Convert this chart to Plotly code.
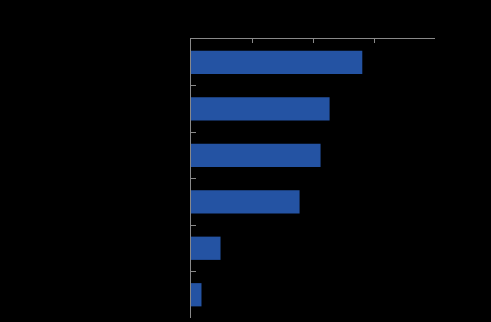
import plotly.graph_objects as go

categories = ["A", "B", "C", "D", "E", "F"]
values = [70.2, 56.8, 53.1, 44.5, 12.1, 4.3]
x_ticks = [0, 25, 50, 75, 100]

fig = go.Figure(go.Bar(
    x=values, y=categories, orientation="h",
    marker=dict(color="#2453A3", line=dict(width=0)),
    width=0.5,
))

fig.update_layout(
    width=491, height=322,
    margin=dict(l=191, r=56, t=39, b=4),
    paper_bgcolor="black", plot_bgcolor="black",
    showlegend=False,
    xaxis=dict(
        side="top", range=[0, 100], tickvals=x_ticks,
        showticklabels=False, ticks="inside", ticklen=4, tickcolor="#898989",
        showline=True, linecolor="#898989", linewidth=1,
        showgrid=False, zeroline=False, automargin=False,
    ),
    yaxis=dict(
        categoryorder="array", categoryarray=categories, autorange="reversed",
        tickson="boundaries", ticks="inside", ticklen=5, tickcolor="#898989",
        showticklabels=False,
        showline=True, linecolor="#898989", linewidth=1,
        showgrid=False, zeroline=False, automargin=False,
    ),
)

fig.write_html("out.html")
